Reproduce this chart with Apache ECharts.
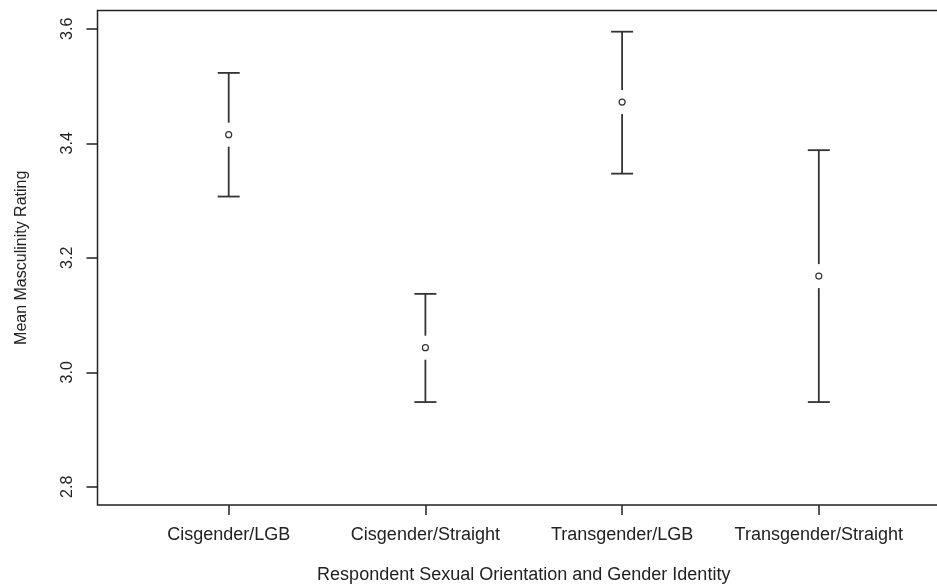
<!DOCTYPE html>
<html><head><meta charset="utf-8">
<script src="https://cdn.jsdelivr.net/npm/echarts@6/dist/echarts.min.js"></script>
<style>html,body{margin:0;padding:0;background:#fff}#c{width:937px;height:587px}</style>
</head><body><div id="c"></div>
<script>
const categories = ['Cisgender/LGB', 'Cisgender/Straight', 'Transgender/LGB', 'Transgender/Straight'];
const means = [3.415, 3.043, 3.472, 3.168];
const lower = [3.307, 2.948, 3.347, 2.948];
const upper = [3.523, 3.137, 3.595, 3.388];
const yTicks = [2.8, 3.0, 3.2, 3.4, 3.6];
const xTicks = [1, 2, 3, 4];

const data = categories.map((c, i) => [i + 1, lower[i], upper[i], means[i]]);
const FONT = 'Liberation Sans, Arial, sans-serif';
const LC = '#333';

const chart = echarts.init(document.getElementById('c'), null, {renderer: 'canvas'});
chart.setOption({
  animation: false,
  backgroundColor: '#fff',
  grid: {left: 97.5, top: 10.5, width: 852.5, height: 494.6, show: true, borderColor: '#222', borderWidth: 1.5,
    containLabel: false, outerBoundsMode: 'none'},
  xAxis: {
    type: 'value', min: 0.333, max: 4.667,
    name: 'Respondent Sexual Orientation and Gender Identity',
    nameLocation: 'middle', nameGap: 61,
    nameTextStyle: {fontFamily: FONT, fontSize: 18, color: '#222'},
    axisLine: {show: false},
    splitLine: {show: false},
    axisTick: {show: true, length: 10, customValues: xTicks, lineStyle: {color: '#222', width: 1.5}},
    axisLabel: {customValues: xTicks, margin: 21, fontFamily: FONT, fontSize: 18, color: '#222',
      formatter: v => categories[Math.round(v) - 1] || ''}
  },
  yAxis: {
    type: 'value', min: 2.768, max: 3.632,
    name: 'Mean Masculinity Rating',
    nameLocation: 'middle', nameGap: 68, nameRotate: 90,
    nameTextStyle: {fontFamily: FONT, fontSize: 16, color: '#222'},
    axisLine: {show: false},
    splitLine: {show: false},
    axisTick: {show: true, length: 11, customValues: yTicks, lineStyle: {color: '#222', width: 1.5}},
    axisLabel: {customValues: yTicks, rotate: 90, margin: 22, fontFamily: FONT, fontSize: 16, color: '#222',
      formatter: v => v.toFixed(1)}
  },
  series: [{
    type: 'custom',
    data: data,
    encode: {x: 0, y: [1, 2, 3]},
    renderItem: function (params, api) {
      const x = api.value(0);
      const lo = api.coord([x, api.value(1)]);
      const hi = api.coord([x, api.value(2)]);
      const m = api.coord([x, api.value(3)]);
      const cap = 11, gap = 12;
      const st = {stroke: LC, lineWidth: 1.8};
      return {
        type: 'group',
        children: [
          {type: 'line', shape: {x1: hi[0], y1: hi[1], x2: m[0], y2: m[1] - gap}, style: st},
          {type: 'line', shape: {x1: m[0], y1: m[1] + gap, x2: lo[0], y2: lo[1]}, style: st},
          {type: 'line', shape: {x1: hi[0] - cap, y1: hi[1], x2: hi[0] + cap, y2: hi[1]}, style: st},
          {type: 'line', shape: {x1: lo[0] - cap, y1: lo[1], x2: lo[0] + cap, y2: lo[1]}, style: st},
          {type: 'circle', shape: {cx: m[0], cy: m[1], r: 3}, style: {stroke: LC, lineWidth: 1.2, fill: '#fff'}}
        ]
      };
    }
  }]
});
</script></body></html>
